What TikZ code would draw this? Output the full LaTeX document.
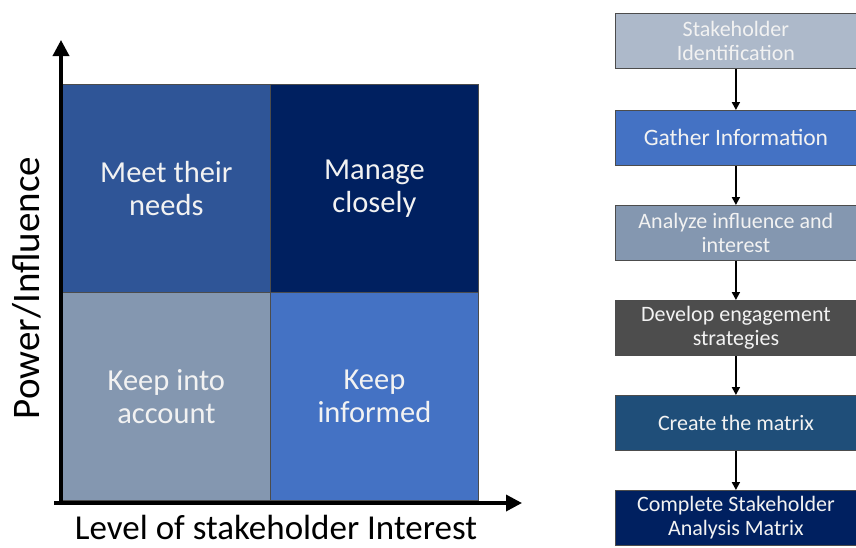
\documentclass[tikz,border=0pt]{standalone}
\usepackage{fontspec}
\setmainfont{Carlito}
\usetikzlibrary{arrows.meta}
\definecolor{cTL}{HTML}{2F5597}
\definecolor{cTR}{HTML}{002060}
\definecolor{cBL}{HTML}{8497B0}
\definecolor{cBR}{HTML}{4472C4}
\definecolor{fA}{HTML}{ADB9CA}
\definecolor{fB}{HTML}{4472C4}
\definecolor{fC}{HTML}{8497B0}
\definecolor{fD}{HTML}{4D4D4D}
\definecolor{fE}{HTML}{1F4E79}
\definecolor{fF}{HTML}{002060}
\definecolor{txt}{HTML}{F2F2F2}
\tikzset{
  quad/.style={draw=black!70, line width=0.8pt, minimum width=208pt, minimum height=208pt, inner sep=0pt, anchor=north west,
    text=txt, font=\fontsize{30.5}{33}\selectfont, align=center},
  flowbox/.style={draw=black!70, line width=0.8pt, minimum width=241pt, minimum height=55pt, inner sep=0pt, anchor=north west,
    text=txt, font=\fontsize{22}{24}\selectfont, align=center},
  axis/.style={line width=3.5pt, -{Triangle[length=16pt,width=16pt]}},
  flowarrow/.style={line width=1.8pt, -{Triangle[length=8pt,width=8pt]}}
}
\begin{document}
\begin{tikzpicture}[x=1pt,y=-1pt]
\useasboundingbox (0,0) rectangle (856,547);
% quadrants
\node[quad, fill=cTL] (tl) at (62,84) {Meet their\\needs};
\node[quad, fill=cTR] (tr) at (270,84) {Manage\\closely};
\node[quad, fill=cBL] (bl) at (62,292) {Keep into\\account};
\node[quad, fill=cBR] (br) at (270,292) {Keep\\informed};
% axes
\coordinate (origin) at (61,505);
\coordinate (ytip) at (61,40);
\coordinate (xstart) at (54,503);
\coordinate (xtip) at (522,503);
\draw[axis] (origin) -- (ytip);
\draw[axis] (xstart) -- (xtip);
\node[rotate=90, font=\fontsize{39}{44}\selectfont] (ylab) at (27,288) {Power/Influence};
\node[font=\fontsize{35}{40}\selectfont] (xlab) at (276,527) {Level of stakeholder Interest};
% flowchart
\node[flowbox, fill=fA] (f1) at (615,13) {Stakeholder\\Identification};
\node[flowbox, fill=fB, font=\fontsize{23.5}{24}\selectfont] (f2) at (615,110) {Gather Information};
\node[flowbox, fill=fC] (f3) at (615,205) {Analyze influence and\\interest};
\node[flowbox, fill=fD] (f4) at (615,300) {Develop engagement\\strategies};
\node[flowbox, fill=fE] (f5) at (615,395) {Create the matrix};
\node[flowbox, fill=fF] (f6) at (615,490) {Complete Stakeholder\\Analysis Matrix};
\foreach \a/\b in {f1/f2,f2/f3,f3/f4,f4/f5,f5/f6}{
  \draw[flowarrow] (\a.south) -- (\b.north);
}
\end{tikzpicture}
\end{document}
